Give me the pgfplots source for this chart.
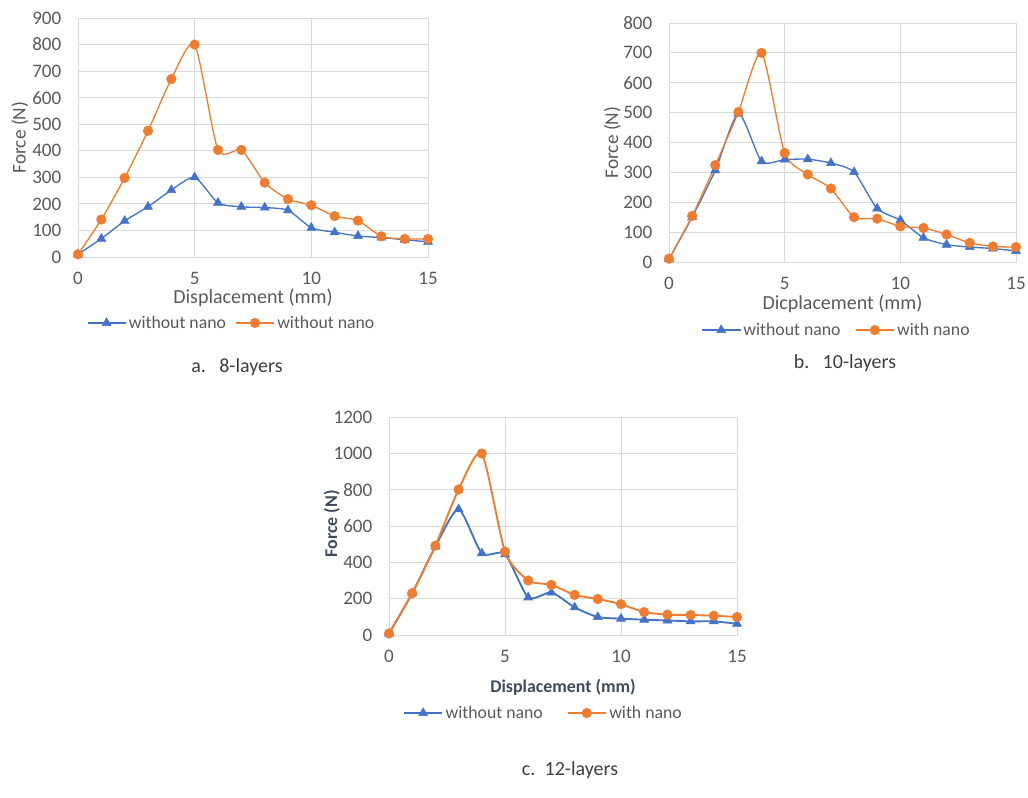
\documentclass[border=0pt]{standalone}
\usepackage{fontspec}
\setmainfont{Carlito}
\usepackage{pgfplots}
\pgfplotsset{compat=1.18}
\definecolor{xlblue}{HTML}{4472C4}
\definecolor{xlorange}{HTML}{ED7D31}
\definecolor{xlgray}{HTML}{595959}
\definecolor{xlgrid}{HTML}{D9D9D9}
\definecolor{xldark}{HTML}{3F4A5C}
\pgfplotsset{
  xlstyle/.style={
    scale only axis,
    xmin=0, xmax=15, xtick={0,5,10,15},
    grid=major,
    grid style={xlgrid, line width=0.6pt},
    axis line style={xlgrid, line width=0.7pt},
    major tick length=0pt,
    tick label style={font=\fontsize{14.3}{16}\selectfont, text=xlgray},
    xticklabel style={yshift=-8pt},
    yticklabel style={xshift=-9pt},
    label style={font=\fontsize{14.5}{16}\selectfont, text=xlgray},
    /pgf/number format/assume math mode=true,
    /pgf/number format/1000 sep={},
    legend style={draw=none, fill=none, font=\fontsize{13.3}{15}\selectfont, text=xlgray,
      legend columns=2, anchor=center, /tikz/every even column/.append style={column sep=5pt}},
    legend image code/.code={\draw[mark repeat=2, mark phase=2] plot coordinates {(0cm,0cm) (0.5cm,0cm) (1cm,0cm)};},
  },
  wo/.style={xlblue, line width=1pt, smooth, tension=0.4, mark=triangle*, mark size=3.9pt, mark options={fill=xlblue, draw=xlblue, line width=0.4pt}},
  wi/.style={xlorange, line width=1pt, smooth, tension=0.4, mark=*, mark size=3.6pt, mark options={fill=xlorange, draw=xlorange, line width=0.4pt}},
}
\begin{document}
\begin{tikzpicture}
\useasboundingbox (0,0) rectangle (771pt,598.5pt);
% ---------- a. 8-layers
\begin{axis}[xlstyle, at={(58.5pt,405.75pt)}, anchor=south west,
  width=262.5pt, height=179.25pt,
  ymin=0, ymax=900, ytick={0,100,...,900},
  xlabel={Displacement (mm)}, ylabel={Force (N)},
  xlabel style={font=\fontsize{15}{17}\selectfont, at={(axis description cs:0.5,-0.172)}, anchor=center},
  ylabel style={at={(axis description cs:-0.166,0.5)}, anchor=center},
  legend style={at={(0.44,-0.276)}},
  ]
\addplot[wo] coordinates {(0,10)(1,69)(2,136)(3,189)(4,252)(5,300)(6,204)(7,189)(8,186)(9,176)(10,110)(11,93)(12,79)(13,73)(14,65)(15,57)};
\addplot[wi] coordinates {(0,10)(1,141)(2,298)(3,475)(4,670)(5,800)(6,403)(7,403)(8,280)(9,218)(10,195)(11,154)(12,137)(13,78)(14,68)(15,68)};
\legend{without nano, without nano}
\end{axis}
% ---------- b. 10-layers
\begin{axis}[xlstyle, at={(501.75pt,402pt)}, anchor=south west,
  width=260.25pt, height=179.25pt,
  ymin=0, ymax=800, ytick={0,100,...,800},
  xlabel={Dicplacement (mm)}, ylabel={Force (N)},
  xlabel style={font=\fontsize{15}{17}\selectfont, at={(axis description cs:0.5,-0.175)}, anchor=center},
  ylabel style={at={(axis description cs:-0.163,0.5)}, anchor=center},
  legend style={at={(0.484,-0.285)}, /tikz/every even column/.append style={column sep=9pt}},
  ]
\addplot[wo] coordinates {(0,10)(1,150)(2,307)(3,497)(4,337)(5,343)(6,344)(7,331)(8,301)(9,179)(10,140)(11,81)(12,58)(13,50)(14,45)(15,37)};
\addplot[wi] coordinates {(0,11)(1,154)(2,324)(3,502)(4,700)(5,365)(6,293)(7,246)(8,150)(9,145)(10,119)(11,114)(12,92)(13,64)(14,52)(15,50)};
\legend{without nano, with nano}
\end{axis}
% ---------- c. 12-layers
\begin{axis}[xlstyle, at={(291.75pt,122.25pt)}, anchor=south west,
  width=261pt, height=163.5pt,
  ymin=0, ymax=1200, ytick={0,200,...,1200},
  xlabel={\bfseries Displacement (mm)}, ylabel={\bfseries Force (N)},
  label style={text=xldark, font=\fontsize{13.4}{15}\selectfont},
  xlabel style={at={(axis description cs:0.5,-0.239)}, anchor=center},
  ylabel style={at={(axis description cs:-0.164,0.51)}, anchor=center},
  legend style={at={(0.445,-0.358)}, /tikz/every even column/.append style={column sep=16pt}},
  wo/.append style={line width=1.4pt},
  wi/.append style={line width=1.4pt},
  ]
\addplot[wo] coordinates {(0,8)(1,230)(2,487)(3,692)(4,450)(5,445)(6,207)(7,234)(8,152)(9,99)(10,90)(11,84)(12,80)(13,75)(14,75)(15,62)};
\addplot[wi] coordinates {(0,8)(1,230)(2,492)(3,801)(4,999)(5,459)(6,300)(7,276)(8,221)(9,198)(10,170)(11,126)(12,112)(13,110)(14,106)(15,99)};
\legend{without nano, with nano}
\end{axis}
% ---------- captions
\node[font=\fontsize{15}{17}\selectfont, text=xlgray!70!black] at (177.75pt,323.25pt) {a.\hspace{10pt}8-layers};
\node[font=\fontsize{15}{17}\selectfont, text=xlgray!70!black] at (633.75pt,326.25pt) {b.\hspace{10pt}10-layers};
\node[font=\fontsize{15}{17}\selectfont, text=xlgray!70!black] at (427.5pt,21pt) {c.\hspace{7pt}12-layers};
\end{tikzpicture}
\end{document}
